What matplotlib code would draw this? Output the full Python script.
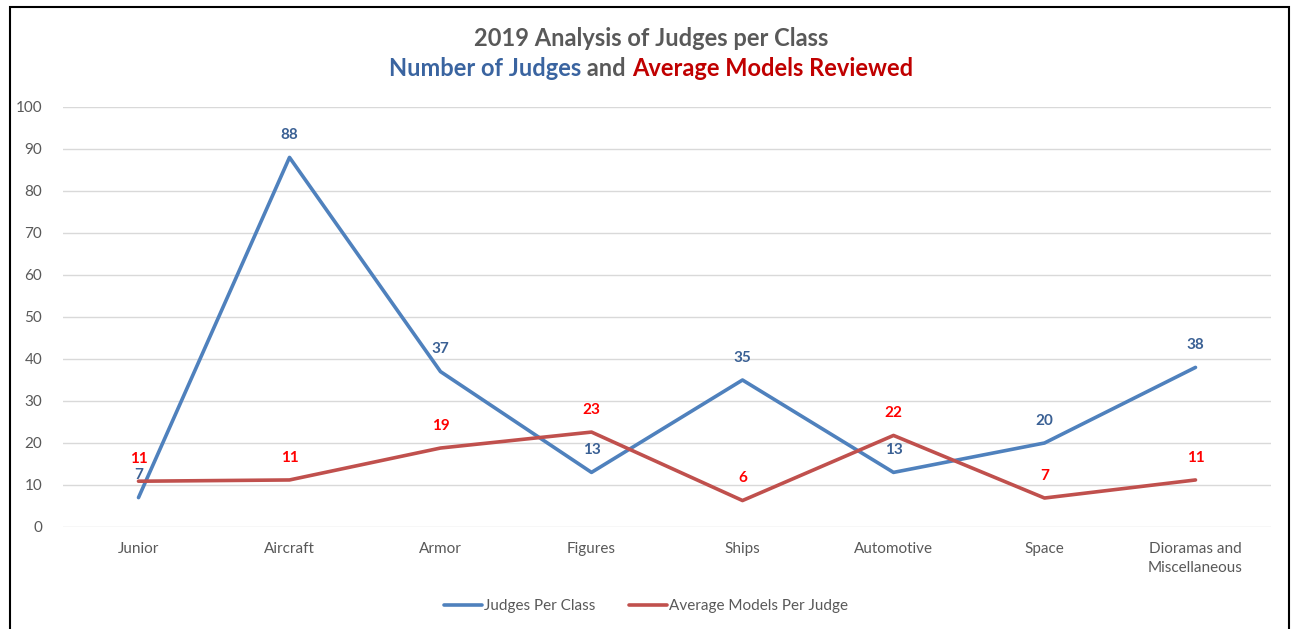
# 2019 judges per class line chart

import matplotlib.pyplot as plt
from matplotlib.patches import Rectangle
from matplotlib.offsetbox import TextArea, HPacker, AnnotationBbox

plt.rcParams['font.family'] = ['Lato', 'DejaVu Sans']

categories = ['Junior', 'Aircraft', 'Armor', 'Figures', 'Ships', 'Automotive',
              'Space', 'Dioramas and\nMiscellaneous']
judges = [7, 88, 37, 13, 35, 13, 20, 38]
avg_models = [10.9, 11.2, 18.8, 22.6, 6.3, 21.8, 6.9, 11.2]

blue = '#4F81BD'
red = '#C0504D'
gray = '#595959'

fig = plt.figure(figsize=(12.92, 6.29), dpi=100)
ax = fig.add_axes([63 / 1292, 1 - 527 / 629, 1208 / 1292, 420 / 629])

x = range(len(categories))
ax.plot(x, judges, color=blue, lw=2.6, label='Judges Per Class', solid_capstyle='round')
ax.plot(x, avg_models, color=red, lw=2.6, label='Average Models Per Judge', solid_capstyle='round')

# data labels above the points
for i, v in enumerate(judges):
    ax.annotate(f'{v:.0f}', (i, v), xytext=(0, 16), textcoords='offset points',
                ha='center', va='center', color='#3A6094', fontsize=11, fontweight='bold')
for i, v in enumerate(avg_models):
    ax.annotate(f'{v:.0f}', (i, v), xytext=(0, 16), textcoords='offset points',
                ha='center', va='center', color='#FF0000', fontsize=11, fontweight='bold')

ax.set_xlim(-0.5, len(categories) - 0.5)
ax.set_ylim(0, 100)
ax.set_yticks(range(0, 101, 10))
ax.set_xticks(list(x))
ax.set_xticklabels(categories, va='top', linespacing=1.45)
ax.tick_params(axis='both', length=0, labelsize=11, labelcolor=gray)
ax.tick_params(axis='y', pad=15)
ax.tick_params(axis='x', pad=11)
ax.grid(axis='y', color='#D9D9D9', lw=1)
ax.set_axisbelow(True)
for s in ax.spines.values():
    s.set_visible(False)

# title, two lines, second one in three colours
fig.text(651 / 1292, 1 - 38 / 629, '2019 Analysis of Judges per Class', ha='center', va='center',
         fontsize=17, fontweight='bold', color=gray)
parts = [('Number of Judges', '#3A64A0'), (' and ', gray), ('Average Models Reviewed', '#C00000')]
boxes = [TextArea(t, textprops=dict(fontsize=17, fontweight='bold', color=c)) for t, c in parts]
pack = HPacker(children=boxes, align='center', pad=0, sep=0)
ab = AnnotationBbox(pack, (651 / 1292, 1 - 68 / 629), xycoords='figure fraction', frameon=False,
                    box_alignment=(0.5, 0.5))
fig.add_artist(ab)

fig.legend(loc='center', bbox_to_anchor=(0.5, 1 - 606 / 629), ncol=2, frameon=False,
           fontsize=11, labelcolor=gray, handlelength=2.5, handletextpad=0.15, columnspacing=2.2)

# chart border
fig.add_artist(Rectangle((10 / 1292, -0.05), 1279 / 1292, 1.05 - 7 / 629,
                         transform=fig.transFigure, fill=False, ec='black', lw=1.5))

fig.savefig('out.png', dpi=100)
plt.close()
